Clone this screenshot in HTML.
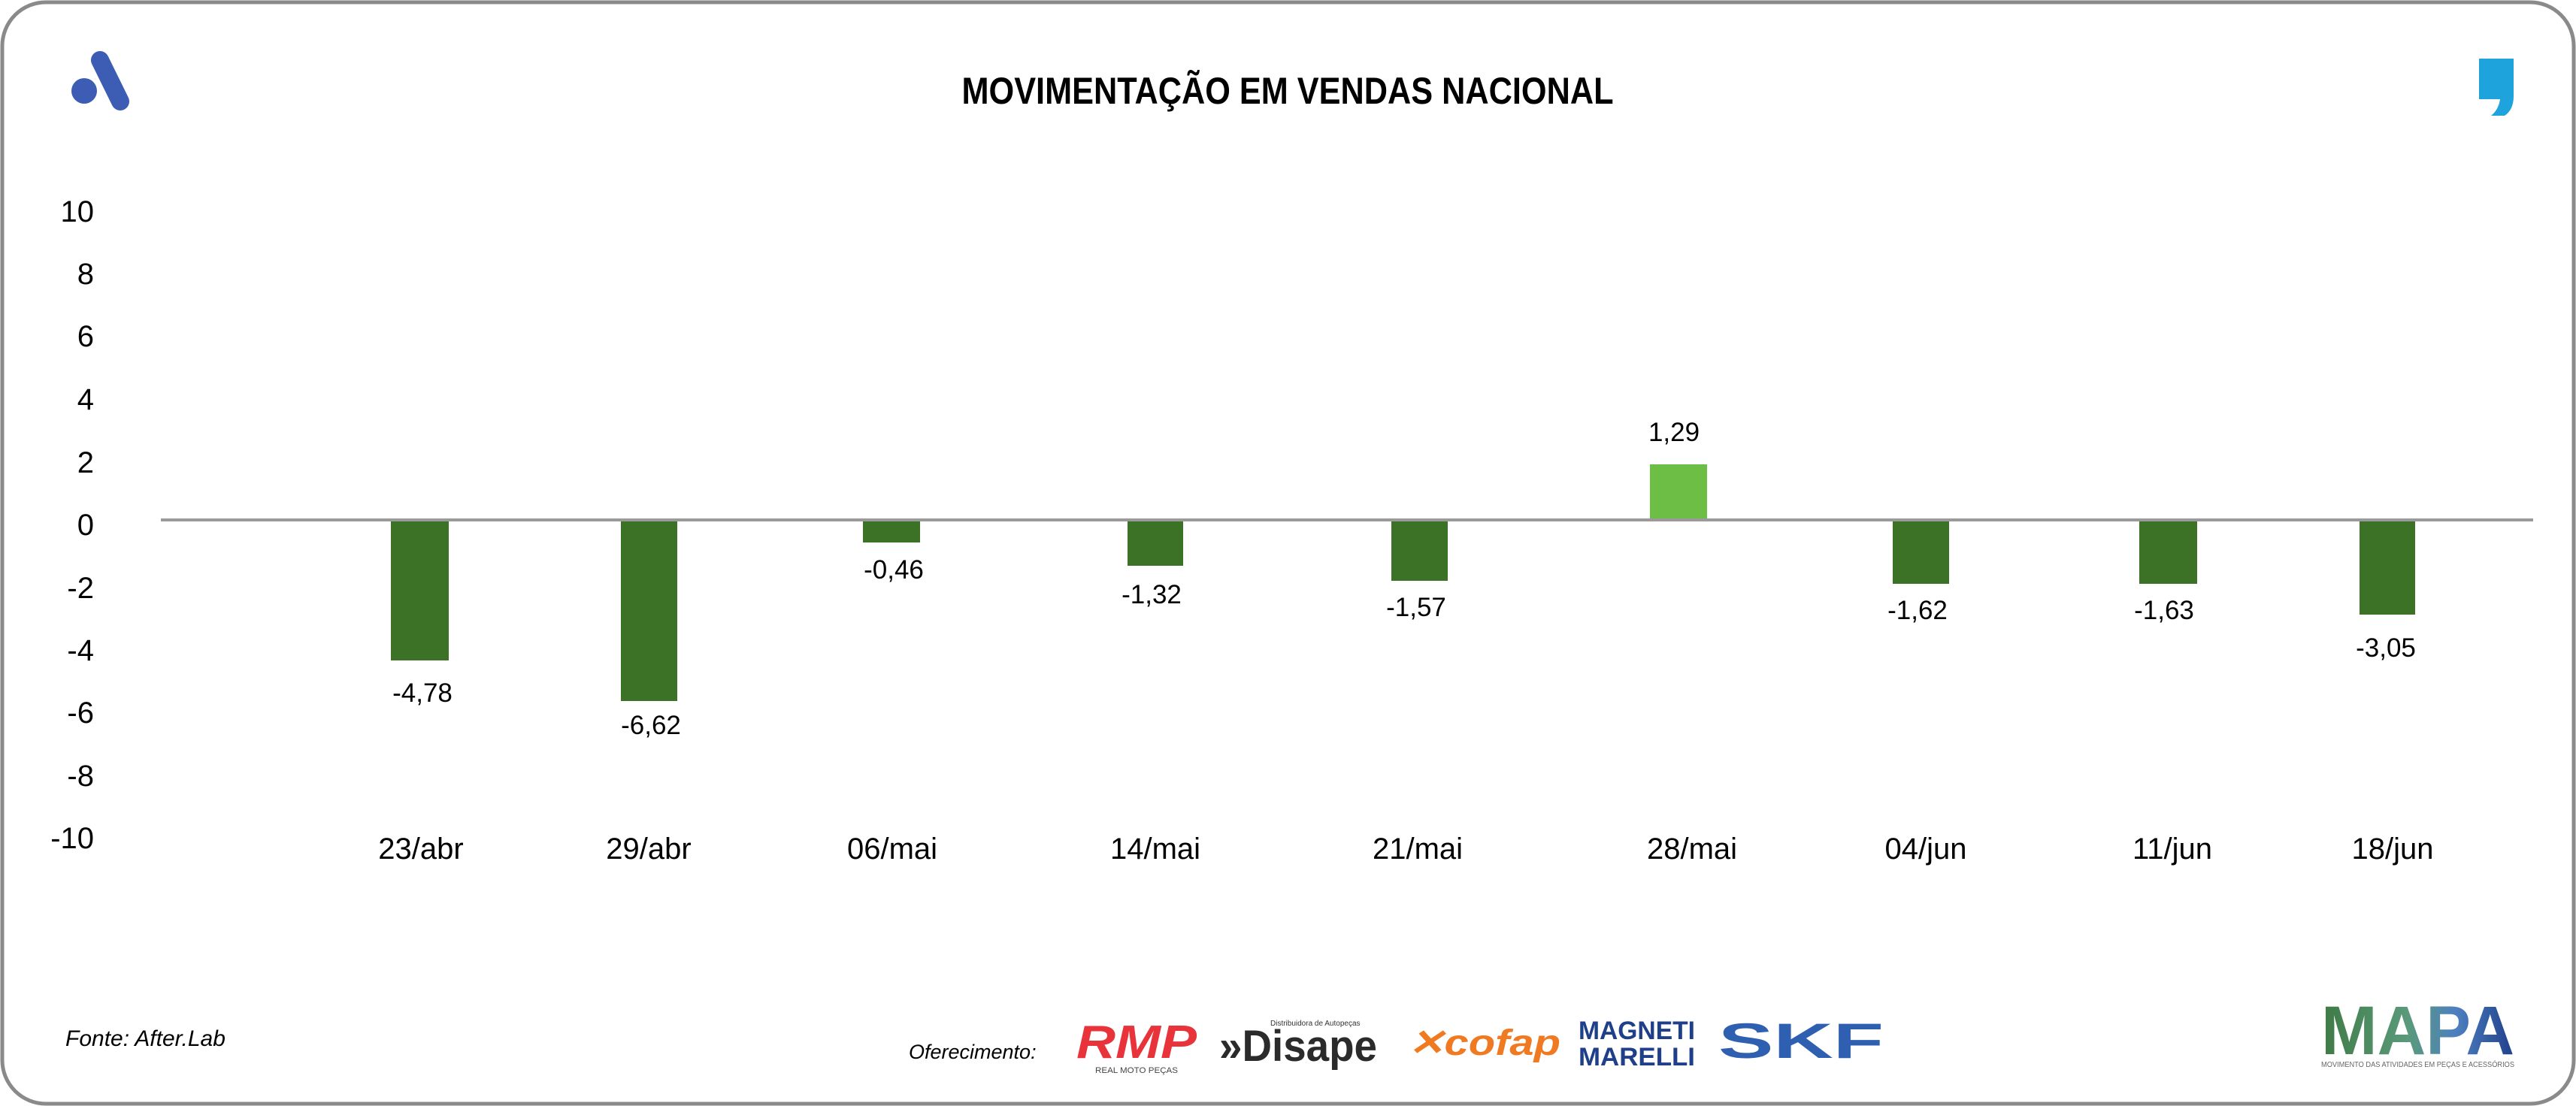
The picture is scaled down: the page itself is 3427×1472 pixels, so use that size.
<!DOCTYPE html>
<html><head><meta charset="utf-8"><style>
html,body{margin:0;padding:0;background:#fff}
svg{display:block}
text{font-family:"Liberation Sans",sans-serif}
</style></head><body>
<svg width="3427" height="1472" viewBox="0 0 3427 1472" xmlns="http://www.w3.org/2000/svg">
<defs>
<linearGradient id="mg" x1="0" x2="1" y1="0" y2="0">
<stop offset="0" stop-color="#3f7a45"/><stop offset="0.45" stop-color="#5a9a7a"/><stop offset="0.7" stop-color="#4d7fc0"/><stop offset="1" stop-color="#1f3f8a"/>
</linearGradient>
</defs>
<rect x="3" y="3" width="3421" height="1466" rx="58" ry="58" fill="#fff" stroke="#8a8a8a" stroke-width="5"/>
<!-- top-left logo -->
<circle cx="112" cy="121" r="17" fill="#3d5db5"/>
<line x1="133" y1="80" x2="160" y2="135" stroke="#3d5db5" stroke-width="24" stroke-linecap="round"/>
<!-- top-right logo -->
<path d="M3298 78 h46 v50 q0 18 -12 26 h-18 q10 -8 12 -22 h-28 z" fill="#1ea3dc"/>
<text x="1713" y="138" font-size="50" font-weight="bold" text-anchor="middle" textLength="867" lengthAdjust="spacingAndGlyphs">MOVIMENTAÇÃO EM VENDAS NACIONAL</text>
<!-- y axis labels -->
<g font-size="40" text-anchor="end" fill="#000">
<text x="125" y="295">10</text><text x="125" y="378">8</text><text x="125" y="461">6</text><text x="125" y="545">4</text><text x="125" y="629">2</text><text x="125" y="712">0</text><text x="125" y="796">-2</text><text x="125" y="879">-4</text><text x="125" y="962">-6</text><text x="125" y="1046">-8</text><text x="125" y="1129">-10</text>
</g>
<!-- bars -->
<g fill="#3b7226">
<rect x="520" y="691" width="77" height="188"/>
<rect x="826" y="691" width="75" height="242"/>
<rect x="1148" y="691" width="76" height="31"/>
<rect x="1500" y="691" width="74" height="62"/>
<rect x="1851" y="691" width="75" height="82"/>
<rect x="2518" y="691" width="75" height="86"/>
<rect x="2846" y="691" width="77" height="86"/>
<rect x="3139" y="691" width="74" height="127"/>
</g>
<rect x="2195" y="618" width="76" height="73" fill="#6cbf44"/>
<line x1="214" y1="692" x2="3370" y2="692" stroke="#9a9a9a" stroke-width="4"/>
<!-- value labels -->
<g font-size="35" text-anchor="middle" fill="#000">
<text x="562" y="934">-4,78</text><text x="866" y="977">-6,62</text><text x="1189" y="770">-0,46</text><text x="1532" y="803">-1,32</text><text x="1884" y="820">-1,57</text><text x="2227" y="587">1,29</text><text x="2551" y="824">-1,62</text><text x="2879" y="824">-1,63</text><text x="3174" y="874">-3,05</text>
</g>
<!-- x labels -->
<g font-size="40" text-anchor="middle" fill="#000">
<text x="560" y="1143">23/abr</text><text x="863" y="1143">29/abr</text><text x="1187" y="1143">06/mai</text><text x="1537" y="1143">14/mai</text><text x="1886" y="1143">21/mai</text><text x="2251" y="1143">28/mai</text><text x="2562" y="1143">04/jun</text><text x="2890" y="1143">11/jun</text><text x="3183" y="1143">18/jun</text>
</g>
<text x="87" y="1392" font-size="30" font-style="italic">Fonte: After.Lab</text>
<text x="1209" y="1409" font-size="27" font-style="italic">Oferecimento:</text>
<!-- sponsor logos -->
<text x="1432" y="1408" font-size="62" font-weight="bold" font-style="italic" fill="#e8333a" textLength="160" lengthAdjust="spacingAndGlyphs">RMP</text>
<text x="1457" y="1428" font-size="11" fill="#444" textLength="110" lengthAdjust="spacingAndGlyphs">REAL MOTO PEÇAS</text>
<text x="1622" y="1412" font-size="58" font-weight="bold" fill="#2b2b2b" textLength="210" lengthAdjust="spacingAndGlyphs">»Disape</text>
<text x="1690" y="1365" font-size="10" fill="#333">Distribuidora de Autopeças</text>
<text x="1873" y="1404" font-size="48" font-weight="bold" font-style="italic" fill="#f07a22" textLength="203" lengthAdjust="spacingAndGlyphs">✕cofap</text>
<text x="2100" y="1383" font-size="34" font-weight="bold" fill="#1f3f8a" textLength="155" lengthAdjust="spacingAndGlyphs">MAGNETI</text>
<text x="2100" y="1418" font-size="34" font-weight="bold" fill="#1f3f8a" textLength="155" lengthAdjust="spacingAndGlyphs">MARELLI</text>
<text x="2286" y="1408" font-size="66" font-weight="bold" fill="#2f5fb0" textLength="220" lengthAdjust="spacingAndGlyphs">SKF</text>
<text x="3088" y="1403" font-size="92" font-weight="bold" fill="url(#mg)" textLength="257" lengthAdjust="spacingAndGlyphs">MAPA</text>
<text x="3088" y="1420" font-size="10" fill="#666" textLength="257" lengthAdjust="spacingAndGlyphs">MOVIMENTO DAS ATIVIDADES EM PEÇAS E ACESSÓRIOS</text>
</svg>
</body></html>
